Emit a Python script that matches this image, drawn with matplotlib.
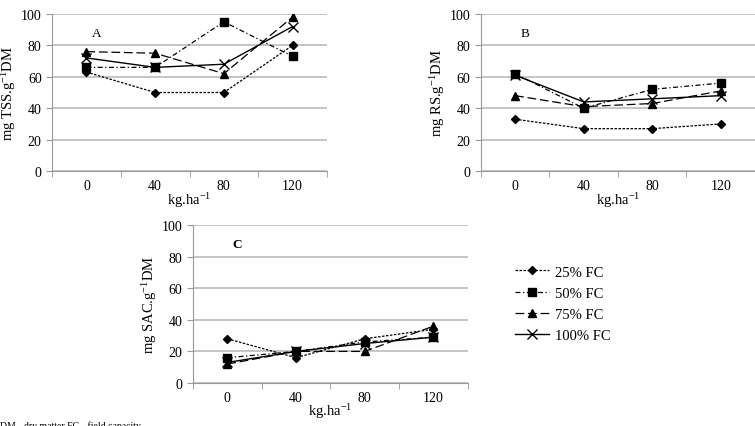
import numpy as np
import matplotlib
matplotlib.use("Agg")
import matplotlib.pyplot as plt

plt.rcParams['font.family'] = ['Liberation Serif', 'DejaVu Serif']
plt.rcParams['mathtext.fontset'] = 'custom'
plt.rcParams['mathtext.rm'] = 'Liberation Serif'
plt.rcParams['mathtext.it'] = 'Liberation Serif:italic'
plt.rcParams['mathtext.bf'] = 'Liberation Serif:bold'

doses = ["0", "40", "80", "120"]
series_names = ["25% FC", "50% FC", "75% FC", "100% FC"]

# panel A: TSS
tss_25 = [63, 50, 50, 80]
tss_50 = [66, 66, 95, 73]
tss_75 = [76, 75, 62, 98]
tss_100 = [72, 66, 68, 92]

# panel B: RS
rs_25 = [33, 27, 27, 30]
rs_50 = [62, 40, 52, 56]
rs_75 = [48, 41, 43, 51]
rs_100 = [61, 44, 46, 48]

# panel C: SAC
sac_25 = [28, 16, 28, 34]
sac_50 = [16, 20, 26, 29]
sac_75 = [12, 20, 20, 36]
sac_100 = [13, 20, 25, 29]

styles = [
    dict(marker='D', ms=4.5, ls=(0, (2, 1.2)), lw=0.9),
    dict(marker='s', ms=6, ls=(0, (4, 2, 1, 2)), lw=0.9),
    dict(marker='^', ms=6, ls=(0, (7, 3)), lw=0.9),
    dict(marker='x', ms=7, ls='-', lw=1.0, mew=1.0),
]

fig = plt.figure(figsize=(7.55, 4.27), dpi=100)

def panel(rect, data, ylabel, letter, bold=False):
    ax = fig.add_axes(rect)
    x = np.arange(len(doses))
    for vals, st, name in zip(data, styles, series_names):
        ax.plot(x, vals, color='black', label=name, **st)
    ax.set_xlim(-0.5, 3.5)
    ax.set_ylim(0, 100)
    ax.set_yticks(range(0, 101, 20))
    ax.set_xticks(x)
    ax.set_xticklabels(doses)
    ax.set_xticks([-0.5, 0.5, 1.5, 2.5, 3.5], minor=True)
    ax.tick_params(axis='x', which='major', length=0, labelsize=10, pad=6)
    ax.tick_params(axis='x', which='minor', length=4, color='#999999')
    ax.tick_params(axis='y', length=4, color='#999999', labelsize=10)
    ax.grid(axis='y', color='#bbbbbb', lw=1.2)
    ax.set_axisbelow(True)
    for s in ['top', 'right']:
        ax.spines[s].set_visible(False)
    for s in ['left', 'bottom']:
        ax.spines[s].set_color('#999999')
    ax.set_xlabel('kg.ha$^{-1}$', fontsize=10.5, labelpad=-2)
    ax.set_ylabel(ylabel, fontsize=10.5, labelpad=2)
    ax.text(0.08, 86, letter, fontsize=9.5, fontweight='bold' if bold else 'normal')
    return ax

panel([0.069, 0.597, 0.364, 0.368], [tss_25, tss_50, tss_75, tss_100],
      'mg TSS.g$^{-1}$DM', 'A')
panel([0.637, 0.597, 0.363, 0.368], [rs_25, rs_50, rs_75, rs_100],
      'mg RS.g$^{-1}$DM', 'B')
axc = panel([0.2556, 0.1007, 0.364, 0.370], [sac_25, sac_50, sac_75, sac_100],
            'mg SAC.g$^{-1}$DM', 'C', bold=True)

handles, labels = axc.get_legend_handles_labels()
fig.legend(handles, labels, loc='upper left', bbox_to_anchor=(0.665, 0.407),
           frameon=False, fontsize=10.5, handlelength=2.3, labelspacing=0.55,
           handletextpad=0.4)

fig.text(0.0, 0.014, 'DM - dry matter FC - field capacity', fontsize=7, va='top')

fig.savefig('out.png', dpi=100)
